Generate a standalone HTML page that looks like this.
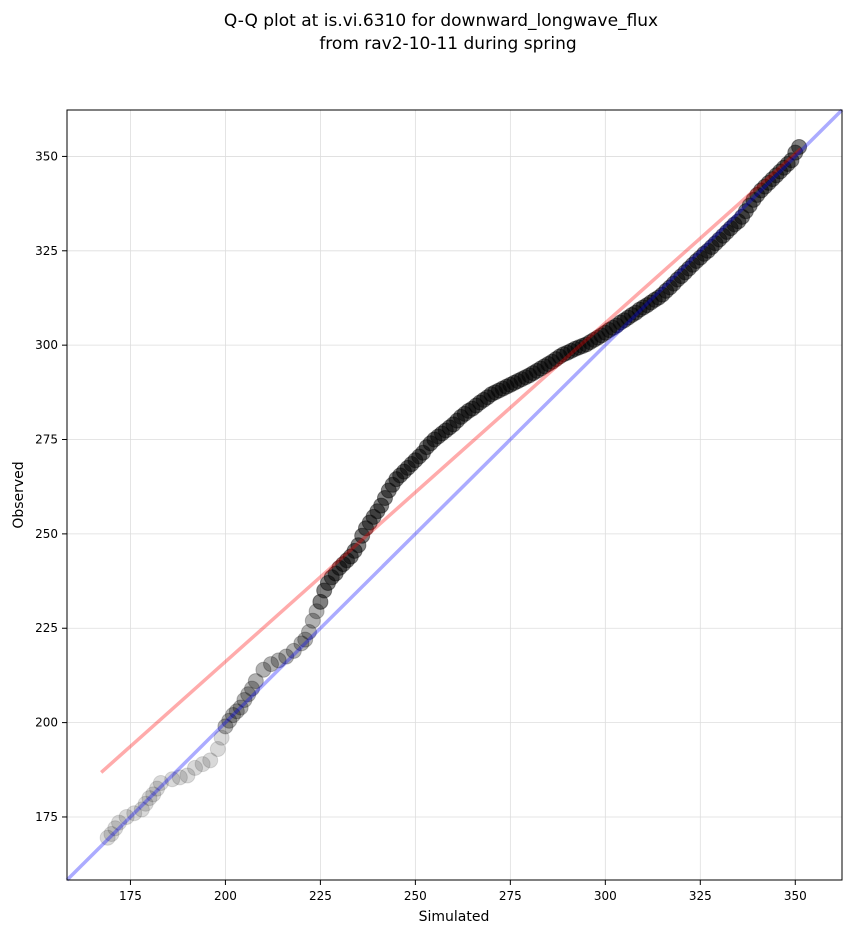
<!DOCTYPE html>
<html><head><meta charset="utf-8">
<style>
body{margin:0;background:#fff;font-family:"Liberation Sans","DejaVu Sans",sans-serif;}
svg text{font-family:"DejaVu Sans","Liberation Sans",sans-serif;}
</style></head>
<body>
<svg id="chart" width="851" height="934" xmlns="http://www.w3.org/2000/svg">
<text x="441" y="26" text-anchor="middle" font-size="17">Q-Q plot at is.vi.6310 for downward_longwave_flux</text>
<text x="448" y="49" text-anchor="middle" font-size="17">from rav2-10-11 during spring</text>
<g id="grid"></g>
<g id="pts"></g>
<g id="lines"></g>
<rect x="67" y="110" width="775" height="770" fill="none" stroke="#000" stroke-width="1"/>
<g id="ticks"></g>
<text x="454" y="921" text-anchor="middle" font-size="14">Simulated</text>
<text transform="translate(23,495) rotate(-90)" text-anchor="middle" font-size="14">Observed</text>
</svg>
<script>
const xTicks=[175,200,225,250,275,300,325,350];
const yTicks=[175,200,225,250,275,300,325,350];
const simQ=[169,170,171,172,174,176,178,179,180,181,182,183,186,188,190,192,194,196,198,199,200,201,202,203,204,205,206,207,208,210,212,214,216,218,220,221,222,223,224,225,226,227,228,229,230,231,232,233,234,235,236,237,238,239,240,241,242,243,244,245,246,247,248,249,250,251,252,253,254,255,256,257,258,259,260,261,262,263,264,265,266,267,268,269,270,271,272,273,274,275,276,277,278,279,280,281,282,283,284,285,286,287,288,289,290,291,292,293,294,295,296,297,298,299,300,301,302,303,304,305,306,307,308,309,310,311,312,313,314,315,316,317,318,319,320,321,322,323,324,325,326,327,328,329,330,331,332,333,334,335,336,337,338,339,340,341,342,343,344,345,346,347,348,349,350,351];
const obsQ=[169.5,170.5,172,173.5,175,176,177,178.5,180,181,182.5,184,185,185.5,186,188,189,190,193,196,199,200.5,202,203,204,206,207.5,209,211,214,215.5,216.5,217.5,219,221,222,224,227,229.5,232,235,237,238.5,239.5,241,242,243,244,245.5,247,249.5,251.5,253,254.5,256,257.5,259.5,261.5,263,264.5,265.5,266.5,267.5,268.5,269.5,270.5,271.5,273,274,275,275.8,276.6,277.4,278.2,279,280,281,281.8,282.6,283.2,284,284.8,285.5,286.2,287,287.5,288,288.5,289,289.5,290,290.5,291,291.5,292,292.6,293.2,293.8,294.4,295,295.6,296.3,297,297.6,298,298.5,299,299.4,299.8,300.2,300.8,301.4,302,302.6,303.3,304,304.6,305.2,306,306.6,307.3,308,308.6,309.4,310,310.6,311.3,312,312.6,313.4,314.4,315.3,316.3,317.4,318.3,319.3,320.3,321.3,322.3,323.2,324.2,325,326,327,328,329,330,331,332,332.8,334,335.5,337,338.5,339.8,341,342,343,344,345,346,347,348,349,351,352.5];
const redLine=[[167.3,186.8],[351.4,352]];
const blueLine=[[158.3,158.3],[362.3,362.3]];
const X0=67,X1=842,Y0=880,Y1=110,D0=158.3,D1=362.3;
const sx=v=>X0+(v-D0)/(D1-D0)*(X1-X0);
const sy=v=>Y0-(v-D0)/(D1-D0)*(Y0-Y1);
const NS="http://www.w3.org/2000/svg";
const mk=(t,a,p)=>{const e=document.createElementNS(NS,t);for(const k in a)e.setAttribute(k,a[k]);p.appendChild(e);return e;};
const grid=document.getElementById('grid'),ticks=document.getElementById('ticks');
xTicks.forEach(v=>{
 const g=mk('line',{x1:sx(v),x2:sx(v),y1:Y1,y2:Y0,stroke:'#ddd','stroke-width':0.8},grid);
 
 
 const t=mk('line',{x1:sx(v),x2:sx(v),y1:Y0,y2:Y0+5,stroke:'#000'},ticks);
 
 
 const l=mk('text',{x:sx(v),y:Y0+20,'text-anchor':'middle','font-size':12},ticks);l.textContent=v;
 
 
});
yTicks.forEach(v=>{
 const g=mk('line',{x1:X0,x2:X1,y1:sy(v),y2:sy(v),stroke:'#ddd','stroke-width':0.8},grid);
 
 
 const t=mk('line',{x1:X0-5,x2:X0,y1:sy(v),y2:sy(v),stroke:'#000'},ticks);
 
 
 const l=mk('text',{x:X0-9,y:sy(v)+4,'text-anchor':'end','font-size':12},ticks);l.textContent=v;
 
 
});
const pts=document.getElementById('pts');
simQ.forEach((s,i)=>{
 const op=s<200?0.15:(s<225?0.3:0.5);
 const c=mk('circle',{cx:sx(s),cy:sy(obsQ[i]),r:7.5,fill:'#000','fill-opacity':op,stroke:'#000','stroke-opacity':op*0.8},pts);
 
 
});
const lines=document.getElementById('lines');
const rl=mk('line',{x1:sx(redLine[0][0]),y1:sy(redLine[0][1]),x2:sx(redLine[1][0]),y2:sy(redLine[1][1]),stroke:'#f00','stroke-opacity':0.33,'stroke-width':3.5},lines);


const bl=mk('line',{x1:sx(blueLine[0][0]),y1:sy(blueLine[0][1]),x2:sx(blueLine[1][0]),y2:sy(blueLine[1][1]),stroke:'#00f','stroke-opacity':0.33,'stroke-width':3.5},lines);


</script>
</body></html>
